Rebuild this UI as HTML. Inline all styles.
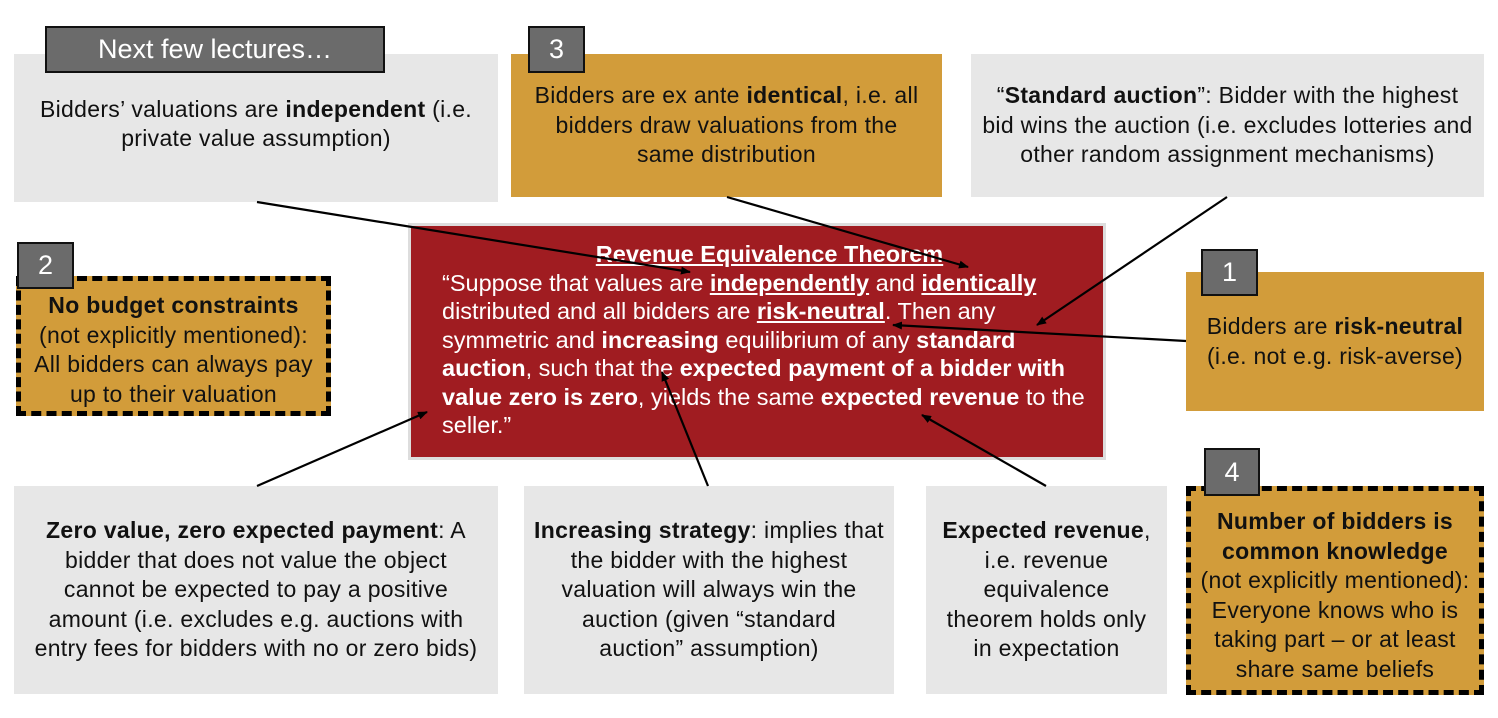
<!DOCTYPE html>
<html><head><meta charset="utf-8"><style>
body{margin:0;width:1498px;height:718px;background:#fff;position:relative;overflow:hidden;font-family:"Liberation Sans",sans-serif;color:#111}
.b{position:absolute;box-sizing:border-box;display:flex;align-items:center;justify-content:center;text-align:center;font-size:23px;letter-spacing:0.3px;line-height:29.5px;white-space:nowrap}
.g{background:#e7e7e7}
.o{background:#d29c3a}
.d{border:5px dashed #000}
.lab{position:absolute;box-sizing:border-box;background:#6b6b6b;border:2px solid #111;color:#fff;font-size:27px;display:flex;align-items:center;justify-content:center}
.red{background:#a01c21;border:3px solid #ddd;color:#fff;text-align:left;justify-content:flex-start;align-items:flex-start;padding:14px 0 0 31px;font-size:23.5px;line-height:28.5px;letter-spacing:0}
</style></head><body>
<div class="b g" style="left:14px;top:54px;width:484px;height:148px;padding-bottom:8px"><div>Bidders’ valuations are <b>independent</b> (i.e.<br>private value assumption)</div></div>
<div class="lab" style="left:45px;top:26px;width:340px;height:47px">Next few lectures…</div>

<div class="b o" style="left:511px;top:54px;width:431px;height:143px"><div>Bidders are ex ante <b>identical</b>, i.e. all<br>bidders draw valuations from the<br>same distribution</div></div>
<div class="lab" style="left:528px;top:26px;width:57px;height:47px">3</div>

<div class="b g" style="left:971px;top:54px;width:513px;height:143px"><div>“<b>Standard auction</b>”: Bidder with the highest<br>bid wins the auction (i.e. excludes lotteries and<br>other random assignment mechanisms)</div></div>

<div class="b o d" style="left:16px;top:276px;width:315px;height:140px;padding-top:8px"><div><b>No budget constraints</b><br>(not explicitly mentioned):<br>All bidders can always pay<br>up to their valuation</div></div>
<div class="lab" style="left:17px;top:242px;width:57px;height:47px">2</div>

<div class="b o" style="left:1186px;top:272px;width:298px;height:139px"><div>Bidders are <b>risk-neutral</b><br>(i.e. not e.g. risk-averse)</div></div>
<div class="lab" style="left:1201px;top:249px;width:57px;height:47px">1</div>

<div class="b red" style="left:408px;top:223px;width:698px;height:237px"><div><div style="text-align:center;width:655px"><b><u>Revenue Equivalence Theorem</u></b></div>“Suppose that values are <b><u>independently</u></b> and <b><u>identically</u></b><br>distributed and all bidders are <b><u>risk-neutral</u></b>. Then any<br>symmetric and <b>increasing</b> equilibrium of any <b>standard</b><br><b>auction</b>, such that the <b>expected payment of a bidder with</b><br><b>value zero is zero</b>, yields the same <b>expected revenue</b> to the<br>seller.”</div></div>

<div class="b g" style="left:14px;top:486px;width:484px;height:208px"><div><b>Zero value, zero expected payment</b>: A<br>bidder that does not value the object<br>cannot be expected to pay a positive<br>amount (i.e. excludes e.g. auctions with<br>entry fees for bidders with no or zero bids)</div></div>
<div class="b g" style="left:524px;top:486px;width:370px;height:208px"><div><b>Increasing strategy</b>: implies that<br>the bidder with the highest<br>valuation will always win the<br>auction (given “standard<br>auction” assumption)</div></div>
<div class="b g" style="left:926px;top:486px;width:241px;height:208px"><div><b>Expected revenue</b>,<br>i.e. revenue<br>equivalence<br>theorem holds only<br>in expectation</div></div>

<div class="b o d" style="left:1186px;top:486px;width:298px;height:209px;padding-top:10px"><div><b>Number of bidders is<br>common knowledge</b><br>(not explicitly mentioned):<br>Everyone knows who is<br>taking part – or at least<br>share same beliefs</div></div>
<div class="lab" style="left:1204px;top:448px;width:56px;height:48px">4</div>

<svg style="position:absolute;left:0;top:0" width="1498" height="718">
<defs><marker id="a" markerWidth="10" markerHeight="8" refX="9" refY="4" orient="auto" markerUnits="userSpaceOnUse"><path d="M0,0 L10,4 L0,8z" fill="#000"/></marker></defs>
<g stroke="#000" stroke-width="2.2" marker-end="url(#a)">
<line x1="257" y1="202" x2="690" y2="272"/>
<line x1="727" y1="197" x2="968" y2="267"/>
<line x1="1227" y1="197" x2="1037" y2="325"/>
<line x1="1186" y1="341" x2="893" y2="325"/>
<line x1="257" y1="486" x2="427" y2="412"/>
<line x1="708" y1="486" x2="662" y2="372"/>
<line x1="1046" y1="486" x2="922" y2="415"/>
</g></svg>
</body></html>
